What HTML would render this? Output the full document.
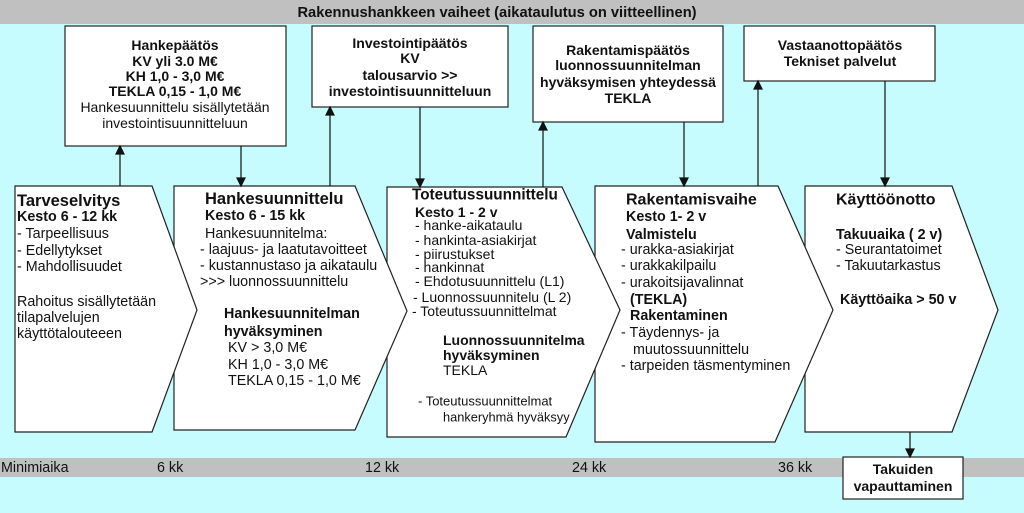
<!DOCTYPE html>
<html><head><meta charset="utf-8"><style>
html,body{margin:0;padding:0;background:#c6fcfd;}
svg{display:block;font-family:"Liberation Sans",Arial,sans-serif;}
text{fill:#111;dominant-baseline:central;}
.b{font-weight:bold;}
</style></head><body>
<svg width="1024" height="513" viewBox="0 0 1024 513" xmlns="http://www.w3.org/2000/svg">
<rect x="0" y="0" width="1024" height="513" fill="#c6fcfd"/>
<rect x="0" y="0" width="1024" height="24" fill="#c0c0c0"/>
<text x="497" y="13" text-anchor="middle" class="b" font-size="14.7">Rakennushankkeen vaiheet (aikataulutus on viitteellinen)</text>
<rect x="0" y="458" width="1024" height="19" fill="#c0c0c0"/>
<g font-size="14.3"><text x="1" y="468">Minimiaika</text><text x="157" y="468">6 kk</text><text x="365" y="468">12 kk</text><text x="572" y="468">24 kk</text><text x="778" y="468">36 kk</text></g>

<g fill="#fff" stroke="#222" stroke-width="1.2">
<polygon points="805,186 952,186 998,310 952,432 805,432"/>
<polygon points="595,186 778,186 833,310 775,442 595,442"/>
<polygon points="387,187 562,187 620,310 566,437 387,437"/>
<polygon points="174,186 355,186 407,311 355,430 174,430"/>
<polygon points="15,186 152,186 197,310 152,432 15,432"/>
<rect x="65" y="26" width="221" height="120"/>
<rect x="312" y="26" width="196" height="81"/>
<rect x="533" y="26" width="190" height="96"/>
<rect x="744" y="26" width="191" height="55"/>
<rect x="843" y="457" width="120" height="42"/>
</g>

<g stroke="#111" stroke-width="1.2" fill="#111">
<line x1="120" y1="186" x2="120" y2="152"/><path d="M116,154 L124,154 L120,146 Z"/>
<line x1="241" y1="146" x2="241" y2="180"/><path d="M237,178 L245,178 L241,186 Z"/>
<line x1="330" y1="186" x2="330" y2="113"/><path d="M326,115 L334,115 L330,107 Z"/>
<line x1="420" y1="107" x2="420" y2="181"/><path d="M416,179 L424,179 L420,187 Z"/>
<line x1="543" y1="187" x2="543" y2="128"/><path d="M539,130 L547,130 L543,122 Z"/>
<line x1="684" y1="122" x2="684" y2="180"/><path d="M680,178 L688,178 L684,186 Z"/>
<line x1="758" y1="186" x2="758" y2="87"/><path d="M754,89 L762,89 L758,81 Z"/>
<line x1="885" y1="81" x2="885" y2="180"/><path d="M881,178 L889,178 L885,186 Z"/>
<line x1="910" y1="432" x2="910" y2="451"/><path d="M906,449 L914,449 L910,457 Z"/>
</g>

<g font-size="14" text-anchor="middle">
<text x="175" y="45" class="b">Hankepäätös</text>
<text x="175" y="61" class="b">KV yli 3.0 M€</text>
<text x="175" y="76" class="b">KH 1,0 - 3,0 M€</text>
<text x="175" y="91" class="b">TEKLA 0,15 - 1,0  M€</text>
<text x="175" y="107">Hankesuunnittelu sisällytetään</text>
<text x="175" y="123">investointisuunnitteluun</text>
<text x="410" y="43" class="b">Investointipäätös</text>
<text x="410" y="58" class="b">KV</text>
<text x="410" y="75" class="b">talousarvio  &gt;&gt;</text>
<text x="410" y="91" class="b">investointisuunnitteluun</text>
<text x="628" y="50" class="b">Rakentamispäätös</text>
<text x="628" y="65" class="b">luonnossuunnitelman</text>
<text x="628" y="82" class="b">hyväksymisen yhteydessä</text>
<text x="628" y="98" class="b">TEKLA</text>
<text x="840" y="45" class="b">Vastaanottopäätös</text>
<text x="840" y="61" class="b">Tekniset palvelut</text>
<text x="903" y="469" class="b">Takuiden</text>
<text x="903" y="486" class="b">vapauttaminen</text>
</g>

<g font-size="14.3">
<text x="17" y="201" class="b" font-size="16.5">Tarveselvitys</text>
<text x="17" y="217" class="b">Kesto 6 - 12 kk</text>
<text x="17" y="234">- Tarpeellisuus</text>
<text x="17" y="251">- Edellytykset</text>
<text x="17" y="267">- Mahdollisuudet</text>
<text x="17" y="302">Rahoitus sisällytetään</text>
<text x="17" y="318">tilapalvelujen</text>
<text x="17" y="334">käyttötalouteeen</text>

<text x="205" y="199" class="b" font-size="16.5">Hankesuunnittelu</text>
<text x="205" y="216" class="b">Kesto 6 - 15 kk</text>
<text x="205" y="234">Hankesuunnitelma:</text>
<text x="200" y="250">- laajuus-  ja laatutavoitteet</text>
<text x="200" y="266">- kustannustaso ja aikataulu</text>
<text x="200" y="282">&gt;&gt;&gt; luonnossuunnittelu</text>
<text x="224" y="314" class="b">Hankesuunnitelman</text>
<text x="224" y="332" class="b">hyväksyminen</text>
<text x="228" y="348">KV &gt; 3,0 M€</text>
<text x="228" y="365">KH 1,0 - 3,0 M€</text>
<text x="228" y="381">TEKLA 0,15 - 1,0 M€</text>

<text x="412" y="195" class="b" font-size="15.3">Toteutussuunnittelu</text>
<text x="415" y="212" class="b" font-size="14">Kesto 1 - 2 v</text>
<text x="415" y="225" font-size="14">- hanke-aikataulu</text>
<text x="415" y="240" font-size="14">- hankinta-asiakirjat</text>
<text x="415" y="254" font-size="14">- piirustukset</text>
<text x="415" y="267" font-size="14">- hankinnat</text>
<text x="415" y="281" font-size="14">- Ehdotusuunnittelu  (L1)</text>
<text x="413" y="297" font-size="14">- Luonnossuunnitelu  (L 2)</text>
<text x="412" y="311" font-size="14">- Toteutussuunnittelmat</text>
<text x="443" y="340" class="b" font-size="14">Luonnossuunnitelma</text>
<text x="443" y="355" class="b" font-size="14">hyväksyminen</text>
<text x="443" y="370" font-size="14">TEKLA</text>
<text x="418" y="401" font-size="13">- Toteutussuunnittelmat</text>
<text x="443" y="417" font-size="12.8">hankeryhmä hyväksyy</text>

<text x="626" y="200" class="b" font-size="16">Rakentamisvaihe</text>
<text x="626" y="217" class="b">Kesto 1- 2 v</text>
<text x="626" y="235" class="b">Valmistelu</text>
<text x="621" y="250">- urakka-asiakirjat</text>
<text x="621" y="266">- urakkakilpailu</text>
<text x="621" y="283">- urakoitsijavalinnat</text>
<text x="630" y="300" class="b">(TEKLA)</text>
<text x="630" y="316" class="b">Rakentaminen</text>
<text x="621" y="333">- Täydennys-  ja</text>
<text x="633" y="350">muutossuunnittelu</text>
<text x="621" y="366">- tarpeiden  täsmentyminen</text>

<text x="836" y="200" class="b" font-size="16">Käyttöönotto</text>
<text x="836" y="235" class="b">Takuuaika ( 2 v)</text>
<text x="836" y="250">- Seurantatoimet</text>
<text x="836" y="266">- Takuutarkastus</text>
<text x="840" y="300" class="b">Käyttöaika &gt; 50 v</text>
</g>
</svg>
</body></html>
